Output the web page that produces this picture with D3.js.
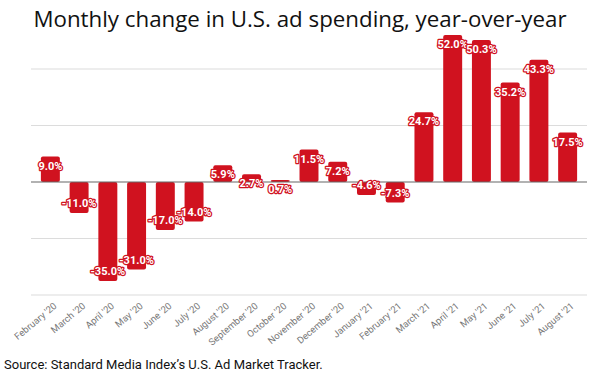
<!DOCTYPE html>
<html>
<head>
<meta charset="utf-8">
<script src="https://cdn.jsdelivr.net/npm/d3@7"></script>
<style>
  body { margin: 0; background: #fff; }
  svg { display: block; }
</style>
</head>
<body>
<div id="chart"></div>
<script>
// Chart data
var months = ["February '20", "March '20", "April '20", "May '20", "June '20", "July '20",
    "August '20", "September '20", "October '20", "November '20", "December '20",
    "January '21", "February '21", "March '21", "April '21", "May '21", "June '21",
    "July '21", "August '21"];
var changes = [9.0, -11.0, -35.0, -31.0, -17.0, -14.0, 5.9, 2.7, 0.7, 11.5, 7.2,
    -4.6, -7.3, 24.7, 52.0, 50.3, 35.2, 43.3, 17.5];
var gridValues = [-40, -20, 0, 20, 40];

var width = 600, height = 375;
var barColor = "#d0121f";

var svg = d3.select("#chart").append("svg")
    .attr("width", width)
    .attr("height", height);

// Scales
var x = d3.scaleBand()
    .domain(months)
    .range([36, 582])
    .paddingInner(0.34)
    .paddingOuter(0.17);

var y = d3.scaleLinear()
    .domain([-40, 40])
    .range([295, 69]);

// Title
svg.append("text")
    .attr("x", 300)
    .attr("y", 27)
    .attr("text-anchor", "middle")
    .attr("font-family", "'Open Sans', sans-serif")
    .attr("font-size", "22.3px")
    .attr("fill", "#111")
    .text("Monthly change in U.S. ad spending, year-over-year");

// Gridlines
svg.selectAll("line.grid")
    .data(gridValues.filter(d => d !== 0))
    .enter()
    .append("line")
    .attr("class", "grid")
    .attr("x1", 31)
    .attr("x2", 587)
    .attr("y1", d => y(d))
    .attr("y2", d => y(d))
    .attr("stroke", "#dcdcdc")
    .attr("stroke-width", 1.2);

// Bars
svg.selectAll("rect.bar")
    .data(changes)
    .enter()
    .append("rect")
    .attr("class", "bar")
    .attr("x", (d, i) => x(months[i]))
    .attr("width", x.bandwidth())
    .attr("y", d => Math.min(y(d), y(0)))
    .attr("height", d => Math.abs(y(d) - y(0)))
    .attr("rx", 2)
    .attr("fill", barColor);

// Zero line
svg.append("line")
    .attr("x1", 31)
    .attr("x2", 587)
    .attr("y1", y(0))
    .attr("y2", y(0))
    .attr("stroke", "#666")
    .attr("stroke-width", 1.2);

// Value labels (white with red halo)
svg.selectAll("text.value")
    .data(changes)
    .enter()
    .append("text")
    .attr("class", "value")
    .attr("x", (d, i) => x(months[i]) + x.bandwidth() / 2)
    .attr("y", d => d >= 0 ? y(d) + 13 : y(d) - 6)
    .attr("text-anchor", "middle")
    .attr("font-family", "Roboto, sans-serif")
    .attr("font-size", "11px")
    .attr("font-weight", "bold")
    .attr("fill", "#fff")
    .attr("stroke", barColor)
    .attr("stroke-width", 2.5)
    .attr("stroke-linejoin", "round")
    .attr("paint-order", "stroke")
    .text(d => d.toFixed(1) + "%");

// Rotated month labels
svg.selectAll("text.month")
    .data(months)
    .enter()
    .append("text")
    .attr("class", "month")
    .attr("text-anchor", "end")
    .attr("font-family", "Roboto, sans-serif")
    .attr("font-size", "9.5px")
    .attr("fill", "#777")
    .attr("transform", d => {
        var cx = x(d) + x.bandwidth() / 2 + 7;
        return "translate(" + cx + ",307) rotate(-40)";
    })
    .text(d => d);

// Source note
svg.append("text")
    .attr("x", 4)
    .attr("y", 369)
    .attr("font-family", "Roboto, sans-serif")
    .attr("font-size", "13px")
    .attr("fill", "#111")
    .text("Source: Standard Media Index\u2019s U.S. Ad Market Tracker.");
</script>
</body>
</html>
